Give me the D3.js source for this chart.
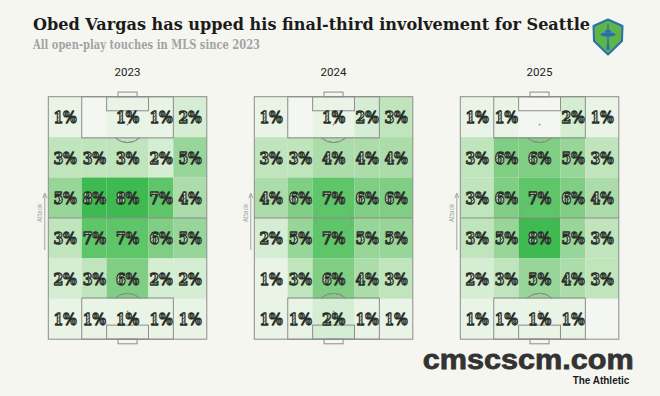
<!DOCTYPE html>
<html><head><meta charset="utf-8">
<script src="https://cdn.jsdelivr.net/npm/d3@7"></script>
<style>
html,body{margin:0;padding:0;background:#f6f6f1;}
svg{display:block;}
</style></head>
<body>
<script>
// ---------- data ----------
const years = ["2023", "2024", "2025"];
// rows listed from attacking end (top) to own goal (bottom); null = empty cell
const values2023 = [
  [1, null, 1, 1, 2],
  [3, 3, 3, 2, 5],
  [5, 8, 8, 7, 4],
  [3, 7, 7, 6, 5],
  [2, 3, 6, 2, 2],
  [1, 1, 1, 1, 1]
];
const values2024 = [
  [1, null, 1, 2, 3],
  [3, 3, 4, 4, 4],
  [4, 6, 7, 6, 6],
  [2, 5, 7, 5, 5],
  [1, 3, 6, 4, 3],
  [1, 1, 2, 1, 1]
];
const values2025 = [
  [1, 1, null, 2, 1],
  [3, 6, 6, 5, 3],
  [3, 6, 7, 6, 4],
  [3, 5, 8, 5, 3],
  [2, 3, 5, 4, 3],
  [1, 1, 1, 1, null]
];
const colEdges = [0, 21.1, 36.8, 63.2, 78.9, 100];   // across pitch width (Opta units)
const rowCount = 6;
const titleText = "Obed Vargas has upped his final-third involvement for Seattle";
const subtitleText = "All open-play touches in MLS since 2023";

const W = 660, H = 396;
const svg = d3.select("body").append("svg").attr("width", W).attr("height", H);
svg.append("rect").attr("width", W).attr("height", H).attr("fill", "#f6f6f1");

const defs = svg.append("defs");
const pat = defs.append("pattern").attr("id", "hatch").attr("patternUnits", "userSpaceOnUse")
  .attr("width", 2.4).attr("height", 2.4).attr("patternTransform", "rotate(45)");
pat.append("rect").attr("width", 2.4).attr("height", 2.4).attr("fill", "#e4ece1");
pat.append("line").attr("x1", 0).attr("y1", 0).attr("x2", 0).attr("y2", 2.4)
  .attr("stroke", "#394139").attr("stroke-width", 1.1);

// title
svg.append("text").attr("x", 33).attr("y", 30).text(titleText)
  .attr("font-family", "DejaVu Serif").attr("font-weight", "bold").attr("font-size", 17)
  .attr("fill", "#1b1b1b").attr("textLength", 557).attr("lengthAdjust", "spacingAndGlyphs");
svg.append("text").attr("x", 33).attr("y", 49).text(subtitleText)
  .attr("font-family", "DejaVu Serif").attr("font-weight", "bold").attr("font-size", 12.5)
  .attr("fill", "#a3a3a3").attr("textLength", 227).attr("lengthAdjust", "spacingAndGlyphs");

// logo
const logo = svg.append("g");
logo.append("path").attr("d", "M593.5,26 L608,19.5 L622.5,26 L622,41 L608,54.5 L594,41 Z")
  .attr("fill", "#5db546").attr("stroke", "#2c6db3").attr("stroke-width", 2).attr("stroke-linejoin", "round");
logo.append("path").attr("d", "M606.3,50 L608,37 L609.7,50 Z").attr("fill", "#2c6db3");
logo.append("line").attr("x1", 608).attr("x2", 608).attr("y1", 24).attr("y2", 50)
  .attr("stroke", "#2c6db3").attr("stroke-width", 1.3);
logo.append("ellipse").attr("cx", 608).attr("cy", 34.5).attr("rx", 7.5).attr("ry", 2.2).attr("fill", "#2c6db3");
logo.append("ellipse").attr("cx", 608).attr("cy", 31).attr("rx", 3).attr("ry", 1.5).attr("fill", "#2c6db3");

// layout scales
const panel = d3.scaleBand().domain(years).range([48.3, 48.3 + 206 * 2 + 158.5])
  .paddingInner(1 - 158.5 / 206).paddingOuter(0);
const pitchTop = 96.7, pitchH = 242.5;
const px = d3.scaleLinear().domain([0, 100]).range([0, panel.bandwidth()]);
const py = d3.scaleLinear().domain([100, 0]).range([0, pitchH]); // 100 = attacking goal at top
const color = d3.scaleLinear().domain([0, 1, 2, 3, 4, 5, 6, 7, 8])
  .range(["#f3f6f0", "#e9f3e6", "#d5edd2", "#c0e5bd", "#abdcaa", "#98d598", "#80cd84", "#5ec568", "#3fba50"]);

const allValues = { "2023": values2023, "2024": values2024, "2025": values2025 };
const rowEdges = d3.range(rowCount + 1).map(i => 100 - i * 100 / rowCount);

years.forEach(yr => {
  const g = svg.append("g").attr("transform", `translate(${panel(yr)},${pitchTop})`);
  const vals = allValues[yr];
  const cells = [];
  vals.forEach((row, r) => row.forEach((v, c) => cells.push({ r, c, v })));

  g.selectAll("rect.cell").data(cells).join("rect").attr("class", "cell")
    .attr("x", d => px(colEdges[d.c])).attr("width", d => px(colEdges[d.c + 1]) - px(colEdges[d.c]))
    .attr("y", d => py(rowEdges[d.r])).attr("height", d => py(rowEdges[d.r + 1]) - py(rowEdges[d.r]))
    .attr("fill", d => d.v == null ? "#f4f6f1" : color(d.v));

  // pitch markings
  const lc = "#8c8c8c", lw = 1;
  const line = g.append("g").attr("fill", "none").attr("stroke", lc).attr("stroke-width", lw);
  const boxRect = (x0, x1, y0, y1) => line.append("rect")
    .attr("x", px(x0)).attr("width", px(x1) - px(x0))
    .attr("y", Math.min(py(y0), py(y1))).attr("height", Math.abs(py(y1) - py(y0)));
  boxRect(0, 100, 0, 100);
  boxRect(21.1, 78.9, 83, 100);
  boxRect(36.8, 63.2, 94.2, 100);
  boxRect(21.1, 78.9, 0, 17);
  boxRect(36.8, 63.2, 0, 5.8);
  boxRect(44, 56, 100, 101.9);
  boxRect(44, 56, -1.9, 0);
  line.append("line").attr("x1", px(0)).attr("x2", px(100)).attr("y1", py(50)).attr("y2", py(50));
  line.append("circle").attr("cx", px(50)).attr("cy", py(50)).attr("r", 18).attr("stroke-opacity", 0.35);
  // penalty arcs
  const r = 18;
  const topSpot = py(88.5), botSpot = py(11.5);
  const dy1 = py(83) - topSpot;
  const a1 = Math.acos(dy1 / r);
  line.append("path").attr("transform", `translate(${px(50)},${topSpot})`)
    .attr("d", d3.arc()({ innerRadius: r, outerRadius: r, startAngle: Math.PI - a1, endAngle: Math.PI + a1 }));
  line.append("path").attr("transform", `translate(${px(50)},${botSpot})`)
    .attr("d", d3.arc()({ innerRadius: r, outerRadius: r, startAngle: -a1, endAngle: a1 }));
  g.append("circle").attr("cx", px(50)).attr("cy", topSpot).attr("r", 0.9).attr("fill", lc);
  g.append("circle").attr("cx", px(50)).attr("cy", botSpot).attr("r", 0.9).attr("fill", lc);

  // labels
  g.selectAll("text.val").data(cells.filter(d => d.v != null)).join("text").attr("class", "val")
    .attr("x", d => px((colEdges[d.c] + colEdges[d.c + 1]) / 2))
    .attr("y", d => py((rowEdges[d.r] + rowEdges[d.r + 1]) / 2) + 6.3)
    .attr("text-anchor", "middle")
    .attr("font-family", "DejaVu Serif").attr("font-weight", "bold").attr("font-size", 17)
    .attr("textLength", 23).attr("lengthAdjust", "spacingAndGlyphs")
    .attr("fill", "url(#hatch)").attr("stroke", "#283028").attr("stroke-width", 1.35)
    .attr("stroke-linejoin", "round")
    .text(d => d.v + "%");

  // year label
  svg.append("text").attr("x", panel(yr) + panel.bandwidth() / 2).attr("y", 75.5)
    .attr("text-anchor", "middle").attr("font-family", "Roboto").attr("font-size", 11.5)
    .attr("fill", "#222").text(yr);

  // attack arrow
  const ax = panel(yr) - 3.5;
  svg.append("line").attr("x1", ax).attr("x2", ax).attr("y1", 250).attr("y2", 195)
    .attr("stroke", "#9a9a9a").attr("stroke-width", 0.9);
  svg.append("path").attr("d", `M${ax - 2},${198} L${ax},${193} L${ax + 2},${198}`)
    .attr("fill", "none").attr("stroke", "#9a9a9a").attr("stroke-width", 0.9);
  svg.append("text").attr("transform", `translate(${ax - 2.5},${213}) rotate(-90)`)
    .attr("text-anchor", "middle").attr("font-family", "Roboto").attr("font-size", 6.5)
    .attr("fill", "#a8a8a8").text("Attack");
});

// watermark + credit
svg.append("text").attr("x", 422.7).attr("y", 368.5).text("cmscscm.com")
  .attr("font-family", "Liberation Sans").attr("font-weight", "bold").attr("font-size", 28.5)
  .attr("fill", "#333").attr("stroke", "#333").attr("stroke-width", 0.8)
  .attr("textLength", 211).attr("lengthAdjust", "spacingAndGlyphs");
svg.append("text").attr("x", 572.7).attr("y", 383.5).text("The Athletic")
  .attr("font-family", "Liberation Sans").attr("font-weight", "bold").attr("font-size", 10)
  .attr("fill", "#1a1a1a").attr("textLength", 56.6).attr("lengthAdjust", "spacingAndGlyphs");
</script>
</body></html>
